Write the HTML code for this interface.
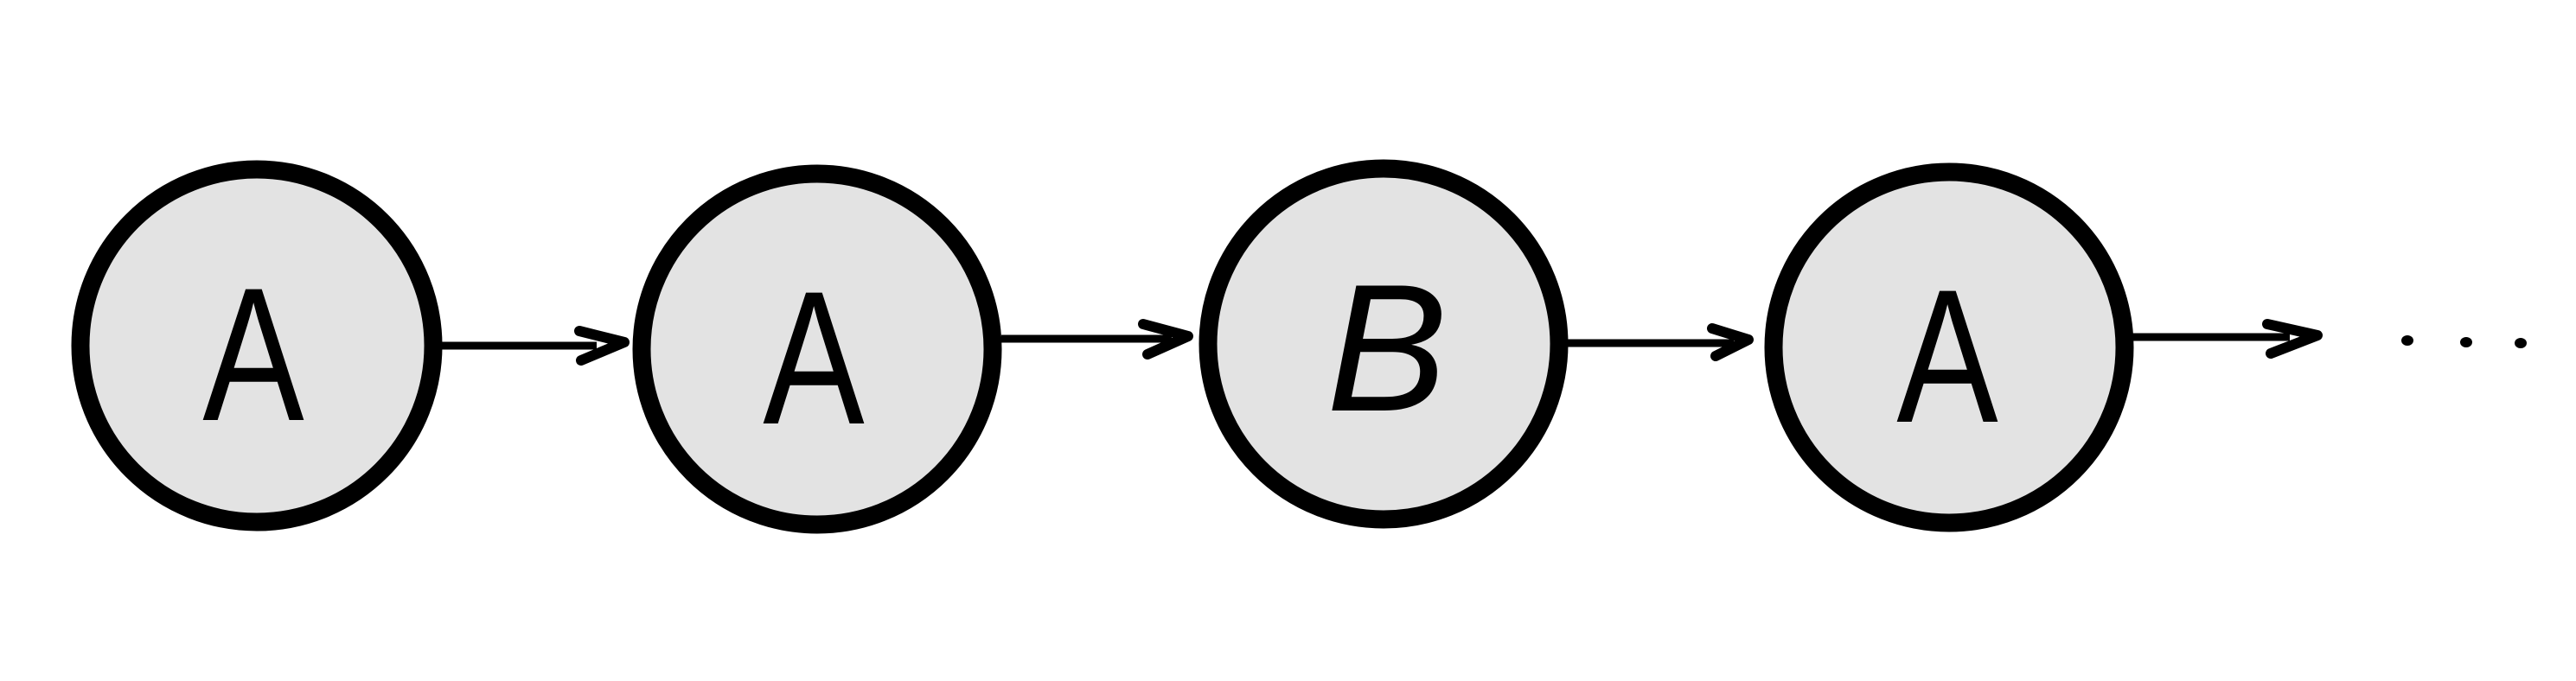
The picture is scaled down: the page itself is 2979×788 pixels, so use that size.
<!DOCTYPE html>
<html><head><meta charset="utf-8"><style>
html,body{margin:0;padding:0;background:#fff;}
svg{display:block;}
text{font-family:"Liberation Sans",sans-serif;}
</style></head><body>
<svg width="2979" height="788" viewBox="0 0 2979 788" xmlns="http://www.w3.org/2000/svg">
<g fill="#e3e3e3" stroke="#000" stroke-width="21">
<circle cx="297" cy="400" r="204"/>
<circle cx="945" cy="404" r="203"/>
<circle cx="1600" cy="398" r="203"/>
<circle cx="2254" cy="402" r="203"/>
</g>
<g stroke="#000" fill="none" stroke-linecap="round" stroke-linejoin="round">
<line x1="510" y1="400" x2="690" y2="400" stroke-width="9" stroke-linecap="butt"/>
<path d="M670 383 L722 396 L672 417" stroke-width="12"/>
<line x1="1158" y1="392" x2="1355" y2="392" stroke-width="9" stroke-linecap="butt"/>
<path d="M1322 375 L1374 389 L1327 410" stroke-width="12"/>
<line x1="1811" y1="397" x2="2005" y2="397" stroke-width="9" stroke-linecap="butt"/>
<path d="M1980 380 L2022 393 L1984 412" stroke-width="12"/>
<line x1="2465" y1="390" x2="2648" y2="390" stroke-width="9" stroke-linecap="butt"/>
<path d="M2622 375 L2680 388 L2626 409" stroke-width="12"/>
</g>
<g fill="#000">
<ellipse cx="2784" cy="394" rx="7" ry="6"/>
<ellipse cx="2852" cy="396" rx="7" ry="6"/>
<ellipse cx="2915" cy="397" rx="7" ry="6"/>
</g>
<g fill="#000" font-size="220" text-anchor="middle">
<text transform="translate(293,486) scale(0.8,1)">A</text>
<text transform="translate(941,490) scale(0.8,1)">A</text>
<text x="1604" y="475" font-family="Liberation Serif, serif" font-style="italic" font-size="210">B</text>
<text transform="translate(2252,488) scale(0.8,1)">A</text>
</g>
</svg>
</body></html>
